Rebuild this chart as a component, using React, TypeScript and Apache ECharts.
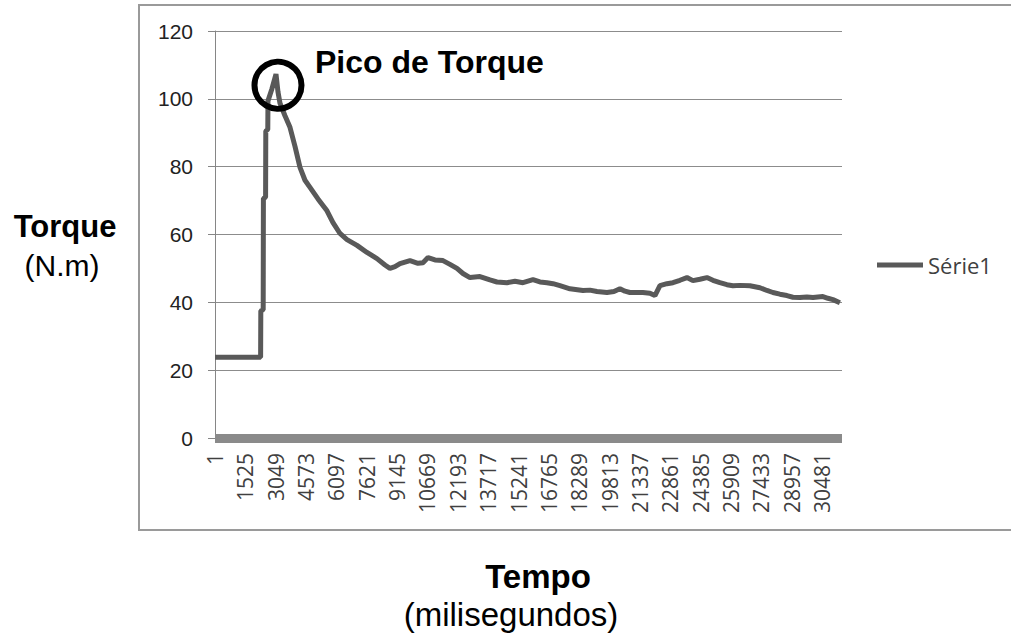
import React, { useEffect, useRef } from "react";
import * as echarts from "echarts";

// x positions: sample index (milliseconds), 0-based
const msIndex = [
  0, 2290, 2300, 2420, 2430, 2540, 2550, 2650, 2660, 2860, 3062, 3163, 3263, 3514, 3765, 4016,
  4267, 4518, 4769, 5171, 5623, 5924, 6275, 6627, 7129, 7631, 8133, 8534, 8785, 9036, 9287,
  9789, 10191, 10442, 10693, 11044, 11446, 11797, 12149, 12450, 12801, 13303, 13805, 14157,
  14659, 15060, 15462, 15964, 16315, 16667, 16968, 17319, 17821, 18474, 18825, 19177, 19679,
  20030, 20331, 20582, 20833, 21486, 21837, 22088, 22339, 22691, 22992, 23343, 23695, 23996,
  24347, 24698, 25000, 25351, 25703, 26004, 26355, 26857, 27359, 27711, 28012, 28363, 28715,
  29016, 29367, 29718, 30020, 30522, 30773, 31024, 31375,
];
const torque = [
  23.8, 23.8, 37.5, 37.8, 70.6, 71, 90.5, 91, 99.4, 103, 107.3, 102, 98.7, 95, 91.6, 86,
  79.8, 76, 73.9, 70.5, 67, 63.5, 60.3, 58.5, 56.8, 54.7, 52.9, 51, 50, 50.5, 51.4,
  52.3, 51.5, 51.7, 53.2, 52.5, 52.3, 51.2, 50, 48.5, 47.3, 47.6, 46.6, 46,
  45.8, 46.2, 45.8, 46.7, 46, 45.8, 45.5, 44.9, 44, 43.5, 43.6, 43.2, 42.9,
  43.2, 44, 43.3, 42.9, 42.9, 42.7, 42, 44.9, 45.5, 45.8, 46.5, 47.3, 46.4,
  46.8, 47.3, 46.5, 45.8, 45.2, 44.9, 45, 44.9, 44.3, 43.5, 42.9, 42.4, 42,
  41.5, 41.4, 41.6, 41.4, 41.7, 41.2, 40.8, 39.9,
];
const xMax = 31480;
const xTickStep = 1524;
const yTicks = [0, 20, 40, 60, 80, 100, 120];
const seriesName = "Série1";
// centre of the highlight circle drawn around the torque peak
const peakMark = [3163, 104];

export default function App() {
  const ref = useRef<HTMLDivElement>(null);
  useEffect(() => {
    if (!ref.current) return;
    const chart = echarts.init(ref.current, null, { renderer: "svg" });
    const data = msIndex.map((x, i) => [x, torque[i]]);
    chart.setOption({
      animation: false,
      backgroundColor: "#ffffff",
      grid: { left: 215, right: 169, top: 31, bottom: 197, containLabel: false },
      legend: {
        left: 877,
        top: 254,
        padding: 0,
        itemWidth: 46,
        itemHeight: 5,
        icon: "rect",
        data: [seriesName],
        textStyle: { fontFamily: "Open Sans", fontSize: 22, color: "#404040" },
      },
      xAxis: {
        type: "value",
        min: 0,
        max: xMax,
        interval: xTickStep,
        offset: 4,
        axisLine: { show: true, lineStyle: { color: "#8a8a8a", width: 9, cap: "butt" } },
        axisTick: { show: false },
        splitLine: { show: false },
        axisLabel: {
          rotate: 90,
          margin: 11,
          showMaxLabel: false,
          fontFamily: "Open Sans",
          fontSize: 21,
          color: "#404040",
          formatter: (v: number) => String(v + 1),
        },
      },
      yAxis: {
        type: "value",
        min: yTicks[0],
        max: yTicks[yTicks.length - 1],
        interval: 20,
        axisLine: { show: true, lineStyle: { color: "#868686", width: 1 } },
        axisTick: { show: true, length: 7, lineStyle: { color: "#868686" } },
        splitLine: { show: true, lineStyle: { color: "#8c8c8c", width: 1 } },
        axisLabel: {
          margin: 22,
          fontFamily: "Liberation Sans",
          fontSize: 21,
          color: "#222222",
        },
      },
      series: [
        {
          name: seriesName,
          type: "line",
          data,
          showSymbol: false,
          symbol: "none",
          lineStyle: { color: "#595959", width: 5 },
          itemStyle: { color: "#595959" },
          markPoint: {
            symbol: "circle",
            symbolSize: 47,
            data: [{ coord: peakMark, value: "" }],
            itemStyle: { color: "rgba(0,0,0,0)", borderColor: "#000000", borderWidth: 6 },
            label: { show: false },
          },
        },
      ],
      graphic: [
        {
          type: "rect",
          shape: { x: 139, y: 5, width: 900, height: 525 },
          style: { fill: "none", stroke: "#9a9a9a", lineWidth: 2 },
          z: -1,
        },
        {
          type: "text",
          x: 315,
          y: 62,
          style: {
            text: "Pico de Torque",
            font: "bold 32px 'Liberation Sans'",
            fill: "#000000",
            textVerticalAlign: "middle",
          },
        },
        {
          type: "text",
          x: 65,
          y: 226,
          style: {
            text: "Torque",
            font: "bold 31px 'Liberation Sans'",
            fill: "#000000",
            textAlign: "center",
            textVerticalAlign: "middle",
          },
        },
        {
          type: "text",
          x: 62,
          y: 265,
          style: {
            text: "(N.m)",
            font: "30px 'Liberation Sans'",
            fill: "#000000",
            textAlign: "center",
            textVerticalAlign: "middle",
          },
        },
        {
          type: "text",
          x: 538,
          y: 576,
          style: {
            text: "Tempo",
            font: "bold 33px 'Liberation Sans'",
            fill: "#000000",
            textAlign: "center",
            textVerticalAlign: "middle",
          },
        },
        {
          type: "text",
          x: 511,
          y: 614,
          style: {
            text: "(milisegundos)",
            font: "33px 'Liberation Sans'",
            fill: "#000000",
            textAlign: "center",
            textVerticalAlign: "middle",
          },
        },
      ],
    });
    return () => chart.dispose();
  }, []);
  return (
    <div
      ref={ref}
      style={{ position: "fixed", left: 0, top: 0, width: 1011, height: 635 }}
    />
  );
}
